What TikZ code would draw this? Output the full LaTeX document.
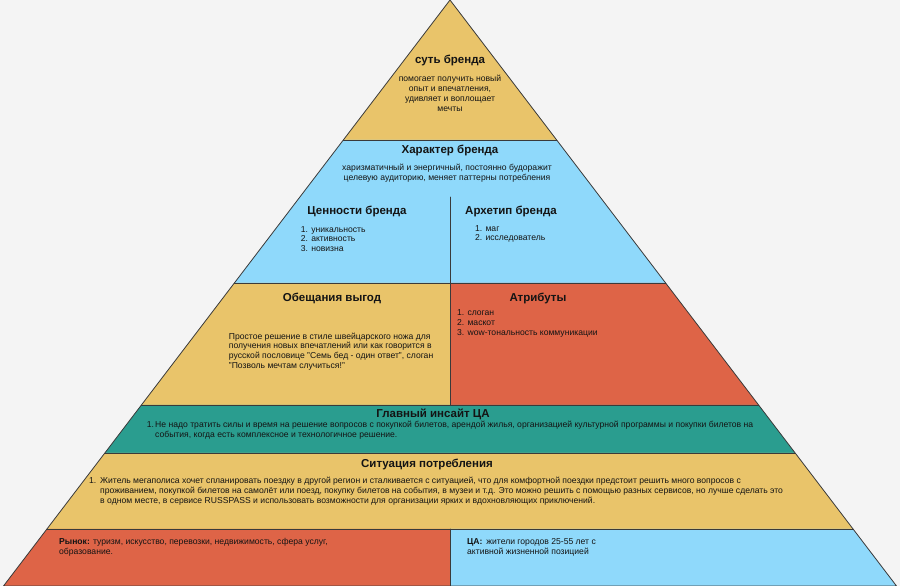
\documentclass[tikz,border=0pt]{standalone}
\usepackage{fontspec}
\setmainfont{Liberation Sans}
\usepackage{tkz-euclide}
\usetikzlibrary{calc, positioning}

\definecolor{bggray}{HTML}{F4F4F4}
\definecolor{tanfill}{HTML}{E9C46A}
\definecolor{bluefill}{HTML}{8FD9FB}
\definecolor{redfill}{HTML}{DE6447}
\definecolor{greenfill}{HTML}{2A9D8F}
\definecolor{edgegray}{HTML}{3A3A3A}
\definecolor{inkdark}{HTML}{141414}

\tikzset{
  tier/.style={line width=0.8pt, color=edgegray},
  head/.style={font=\fontsize{11.5}{13}\selectfont\bfseries, text=inkdark, inner sep=0pt},
  body/.style={font=\fontsize{8.6}{9.8}\selectfont, text=inkdark, inner sep=0pt, align=left},
}

\begin{document}
\begin{tikzpicture}[x=100pt, y=100pt]
\fill[bggray] (0,0) rectangle (9,5.86);
\useasboundingbox (0,0) rectangle (9,5.86);
\tkzDefPoints{4.5/5.86/T, 3.433/4.46/L_1, 5.567/4.46/R_1, 2.344/3.03/L_2, 6.656/3.03/R_2,
  1.414/1.81/L_3, 7.586/1.81/R_3, 1.049/1.33/L_4, 7.951/1.33/R_4,
  0.470/0.57/L_5, 8.530/0.57/R_5, 0.035/0/L_6, 8.965/0/R_6}
\tkzDefPoints{4.5/3.89/M_1, 4.5/3.03/M_2, 4.5/1.81/M_3, 4.5/0.57/M_5, 4.5/0/M_6}
% tiers
\tkzFillPolygon[color=tanfill](T,L_1,R_1)
\tkzFillPolygon[color=bluefill](L_1,R_1,R_2,L_2)
\tkzFillPolygon[color=tanfill](L_2,M_2,M_3,L_3)
\tkzFillPolygon[color=redfill](M_2,R_2,R_3,M_3)
\tkzFillPolygon[color=greenfill](L_3,R_3,R_4,L_4)
\tkzFillPolygon[color=tanfill](L_4,R_4,R_5,L_5)
\tkzFillPolygon[color=redfill](L_5,M_5,M_6,L_6)
\tkzFillPolygon[color=bluefill](M_5,R_5,R_6,M_6)
\tkzDrawPolygon[tier](T,L_6,R_6)
\tkzDrawSegments[tier](L_1,R_1 L_2,R_2 L_3,R_3 L_4,R_4 L_5,R_5 M_1,M_3 M_5,M_6)

\node[head] (essence) at (4.5,5.26) {суть бренда};
\node[body, align=center] (essencetxt) at (4.5,4.925) {помогает получить новый\\опыт и впечатления,\\удивляет и воплощает\\мечты};

\node[head] (character) at (4.5,4.36) {Характер бренда};
\node[body, align=center] (charactertxt) at (4.47,4.13) {харизматичный и энергичный, постоянно будоражит\\целевую аудиторию, меняет паттерны потребления};

\node[head] (values) at (3.57,3.75) {Ценности бренда};
\node[body, anchor=west] (valuestxt) at (3.007,3.47) {1. уникальность\\2. активность\\3. новизна};
\node[head] (archetype) at (5.11,3.75) {Архетип бренда};
\node[body, anchor=west] (archetypetxt) at (4.75,3.52) {1. маг\\2. исследователь};

\node[head] (promise) at (3.32,2.88) {Обещания выгод};
\node[body, anchor=west] (promisetxt) at (2.287,2.345) {Простое решение в стиле швейцарского ножа для\\получения новых впечатлений или как говорится в\\русской пословице "Семь бед - один ответ", слоган\\"Позволь мечтам случиться!"};
\node[head] (attributes) at (5.38,2.88) {Атрибуты};
\node[body, anchor=west] (attributestxt) at (4.57,2.623) {1. слоган\\2. маскот\\3. wow-тональность коммуникации};

\node[head] (insight) at (4.33,1.72) {Главный инсайт ЦА};
\node[body, anchor=west] (insightnum) at (1.467,1.61) {1.};
\node[body, anchor=west] (insighttxt) at (1.55,1.56) {Не надо тратить силы и время на решение вопросов с покупкой билетов, арендой жилья, организацией культурной программы и покупки билетов на\\события, когда есть комплексное и технологичное решение.};

\node[head] (situation) at (4.27,1.22) {Ситуация потребления};
\node[body, anchor=west] (situationnum) at (0.89,1.05) {1.};
\node[body, anchor=west] (situationtxt) at (1.00,0.95) {Житель мегаполиса хочет спланировать поездку в другой регион и сталкивается с ситуацией, что для комфортной поездки предстоит решить много вопросов с\\проживанием, покупкой билетов на самолёт или поезд, покупку билетов на события, в музеи и т.д. Это можно решить с помощью разных сервисов, но лучше сделать это\\в одном месте, в сервисе RUSSPASS и использовать возможности для организации ярких и вдохновляющих приключений.};

\node[body, anchor=west] (market) at (0.59,0.385) {\textbf{Рынок:} туризм, искусство, перевозки, недвижимость, сфера услуг,\\образование.};
\node[body, anchor=west] (audience) at (4.67,0.385) {\textbf{ЦА:}\, жители городов 25-55 лет с\\активной жизненной позицией};
\end{tikzpicture}
\end{document}
